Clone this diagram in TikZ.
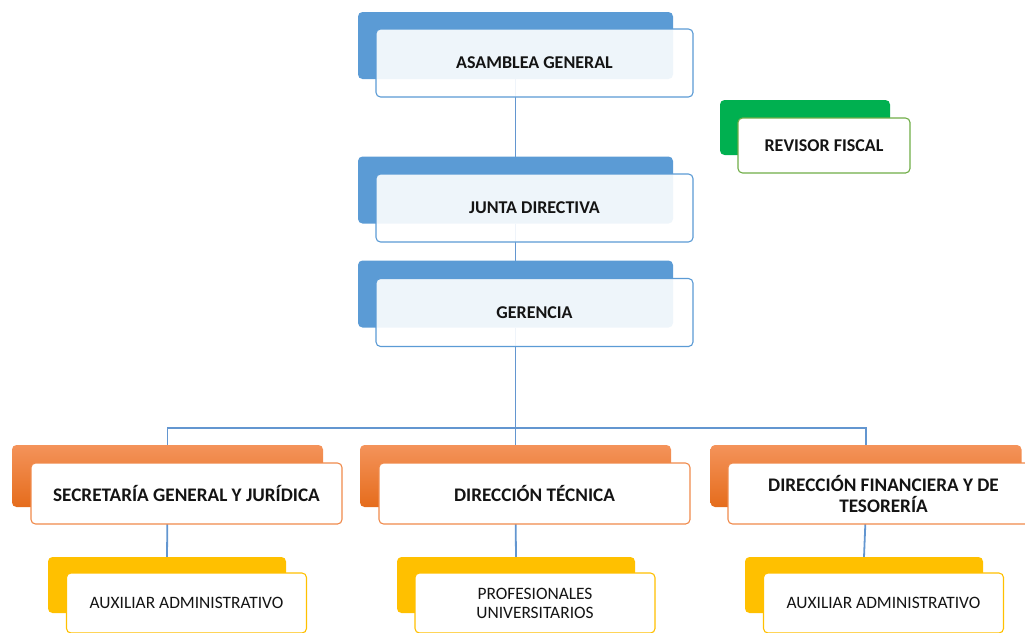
\documentclass[tikz,border=0pt]{standalone}
\usepackage{fontspec}
\setmainfont{Carlito}
\usetikzlibrary{backgrounds}
\definecolor{bluebk}{HTML}{5B9BD5}
\definecolor{blueln}{HTML}{6396D0}
\definecolor{greenbk}{HTML}{00B050}
\definecolor{greenfr}{HTML}{70AD47}
\definecolor{orangetop}{HTML}{F4935A}
\definecolor{orangebot}{HTML}{E56C1C}
\definecolor{orangefr}{HTML}{F08A4B}
\definecolor{yellowbk}{HTML}{FFC000}
\definecolor{textc}{HTML}{141414}
\begin{document}
\begin{tikzpicture}[x=1pt,y=-1pt,
  box/.style={rounded corners=4.5pt, inner sep=0pt, outer sep=0pt, align=center, text=textc},
  boldtxt/.style={font=\bfseries\fontsize{18}{21}\selectfont},
  bigtxt/.style={font=\bfseries\fontsize{19.2}{21}\selectfont},
  regtxt/.style={font=\fontsize{17.4}{19}\selectfont},
  blueback/.style={box, fill=bluebk, minimum width=315pt, minimum height=67pt},
  bluefront/.style={box, boldtxt, draw=bluebk, line width=1.1pt, fill=white, fill opacity=0.9, text opacity=1, minimum width=317pt, minimum height=68pt},
  greenback/.style={box, fill=greenbk, minimum width=170pt, minimum height=55pt},
  greenfront/.style={box, boldtxt, draw=greenfr, line width=1.1pt, fill=white, minimum width=172pt, minimum height=55pt},
  orangeback/.style={box, top color=orangetop, bottom color=orangebot, minimum width=311pt, minimum height=62pt},
  orangefront/.style={box, bigtxt, draw=orangefr, line width=1.1pt, fill=white, minimum width=311pt, minimum height=61pt},
  yellowback/.style={box, fill=yellowbk, minimum width=238pt, minimum height=56pt},
  yellowfront/.style={box, regtxt, draw=yellowbk, line width=1.1pt, fill=white, minimum width=240pt, minimum height=60pt},
  conn/.style={draw=blueln, line width=1.8pt}
]
\useasboundingbox (0,0) rectangle (1025,632);
\clip (0,0) rectangle (1025,632);

% top chain
\node[blueback] (asb) at (515.5,45.5) {};
\node[bluefront] (asf) at (534.5,63) {ASAMBLEA GENERAL};
\node[blueback] (jub) at (515.5,190) {};
\node[bluefront] (juf) at (534.5,208) {JUNTA DIRECTIVA};
\node[blueback] (geb) at (515.5,294) {};
\node[bluefront] (gef) at (534.5,312.5) {GERENCIA};

% revisor
\node[greenback] (rvb) at (805,127.5) {};
\node[greenfront] (rvf) at (824,145.5) {REVISOR FISCAL};

% second level
\node[orangeback] (secb) at (167.5,476) {};
\node[orangefront] (secf) at (186.5,493.5) {SECRETARÍA GENERAL Y JURÍDICA};
\node[orangeback] (tecb) at (515.5,476) {};
\node[orangefront] (tecf) at (534.5,493.5) {DIRECCIÓN TÉCNICA};
\node[orangeback] (finb) at (866,476) {};
\node[orangefront] (finf) at (883.5,493.5) {DIRECCIÓN FINANCIERA Y DE\\TESORERÍA};

% third level
\node[yellowback] (yb1) at (167,585) {};
\node[yellowfront] (yf1) at (186.5,603) {AUXILIAR ADMINISTRATIVO};
\node[yellowback] (yb2) at (516,585) {};
\node[yellowfront] (yf2) at (535,603) {PROFESIONALES\\UNIVERSITARIOS};
\node[yellowback] (yb3) at (864,585) {};
\node[yellowfront] (yf3) at (883.5,603) {AUXILIAR ADMINISTRATIVO};

\coordinate (bus) at (515.5,428);

\begin{pgfonlayer}{background}
\draw[conn] (asb.south) -- (jub.north);
\draw[conn] (jub.south) -- (geb.north);
\draw[conn] (geb.south) -- (tecb.north);
\draw[conn] (secb.north) |- (bus) -| (finb.north);
\draw[conn] (secb.south) -- (yb1.north);
\draw[conn] (tecb.south) -- (yb2.north);
\draw[conn] (finb.south) -- (yb3.north);
\end{pgfonlayer}
\end{tikzpicture}
\end{document}
